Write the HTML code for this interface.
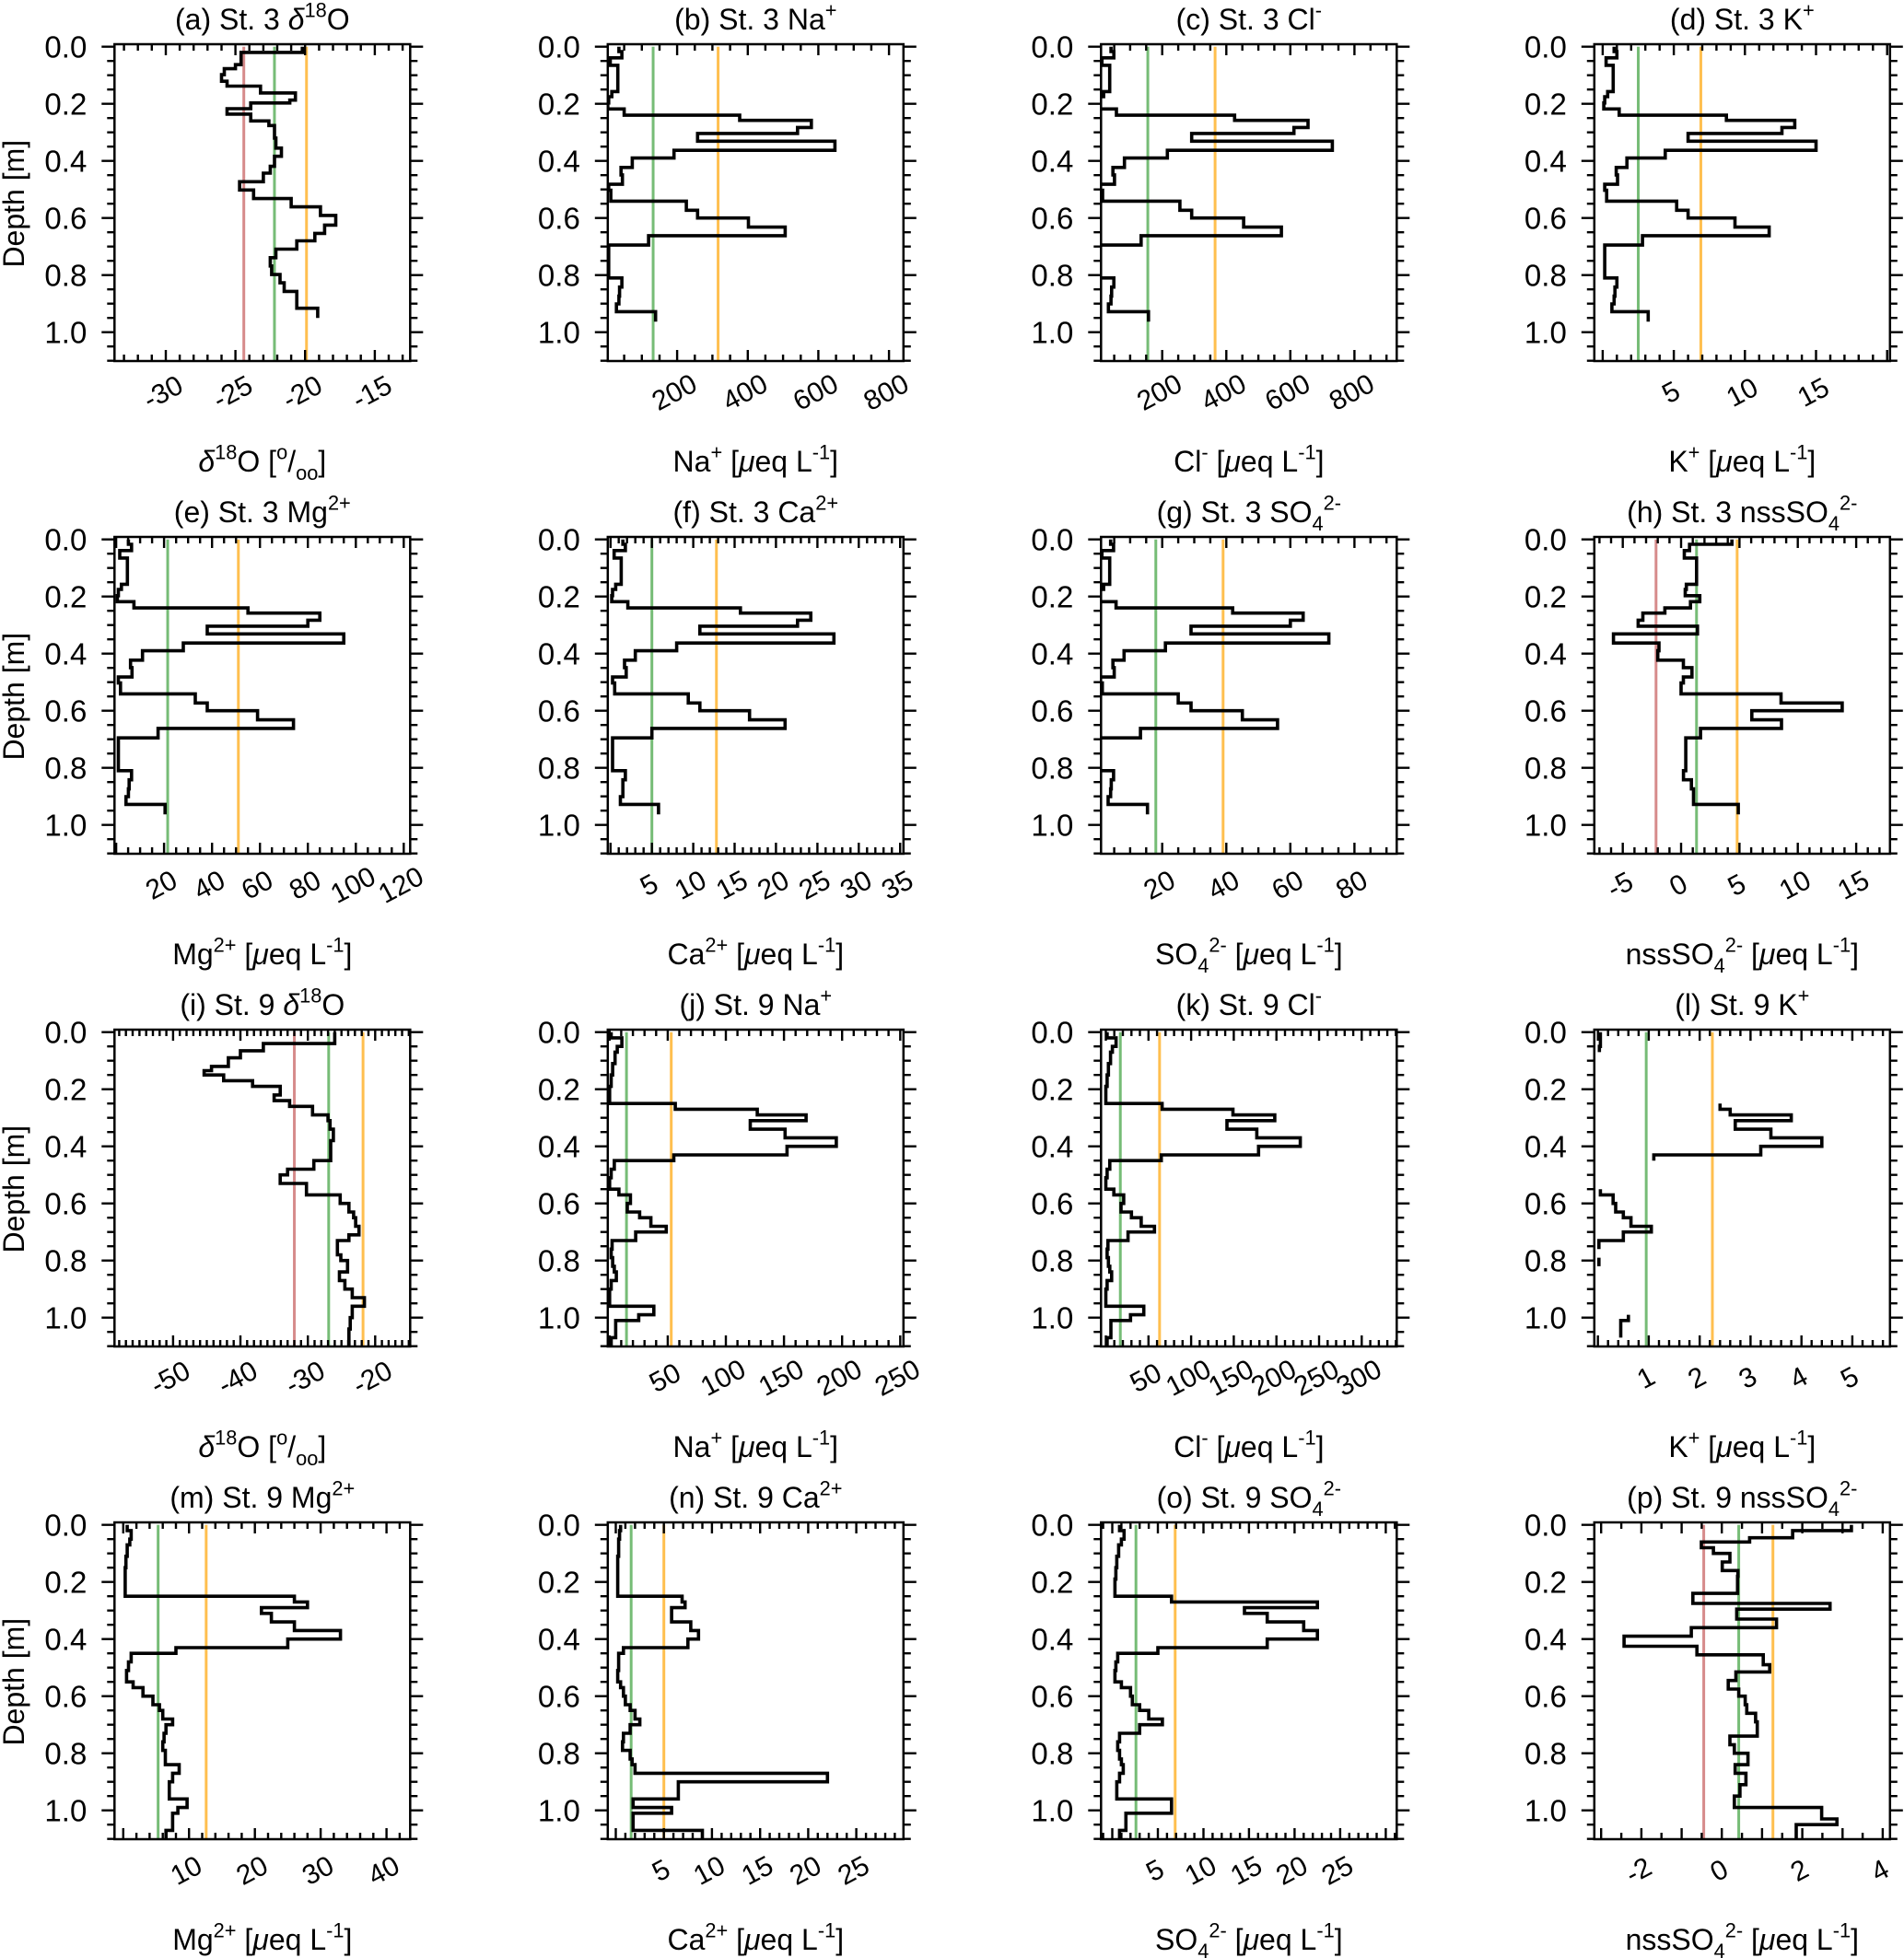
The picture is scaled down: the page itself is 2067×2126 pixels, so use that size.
<!DOCTYPE html>
<html><head><meta charset="utf-8"><title>Ion profiles</title>
<style>
html,body{margin:0;padding:0;background:#fff;}
svg{display:block;font-family:"Liberation Sans",Arial,sans-serif;}
</style></head>
<body>
<svg id="fig" width="2067" height="2126" viewBox="0 0 2067 2126" xmlns="http://www.w3.org/2000/svg"></svg>
<script>
// ---------- data (depth boundaries in m, values per bin) ----------
const depthA = [0,0.02,0.063,0.077,0.098,0.121,0.138,0.162,0.187,0.197,0.217,0.236,0.26,0.276,0.32,0.355,0.384,0.419,0.443,0.473,0.502,0.532,0.561,0.591,0.625,0.654,0.68,0.709,0.739,0.768,0.798,0.827,0.857,0.887,0.916,0.95];
const valsA = [-20.2,-24.6,-25,-25.8,-26,-25.6,-23.2,-20.7,-21.1,-23.9,-25.6,-23.9,-22.6,-22.2,-22.1,-21.7,-22.2,-22.5,-23,-24.7,-23.7,-21,-18.9,-17.8,-18.6,-19.3,-20.6,-22.1,-22.5,-22.4,-21.8,-21.5,-20.6,-20.6,-19.1];
const depthSt3 = [0,0.017,0.039,0.065,0.157,0.175,0.197,0.218,0.24,0.258,0.283,0.304,0.331,0.363,0.39,0.423,0.449,0.482,0.503,0.541,0.573,0.6,0.632,0.662,0.695,0.81,0.842,0.874,0.901,0.928,0.963];
const valsB = [35,43.5,10.5,32,15,6,3.5,50,377,580,541,258,647,191,73,41,45,6,12,226,258,402,506,119,6,43.5,37,35,28,139];
const valsC = [40,49,12,36,17,7,4,57,426,655,611,292,731,216,82,46,51,7,14,255,292,454,572,134,7,49,42,40,32,157];
const valsD = [0.8,1.0,0.24,0.74,0.35,0.14,0.08,1.16,8.7,13.5,12.6,6.0,15.0,4.4,1.7,0.95,1.04,0.14,0.28,5.2,6.0,9.3,11.7,2.8,0.14,1.0,0.86,0.8,0.65,3.2];
const valsE = [5.1,6.4,1.5,4.7,2.2,0.9,0.5,7.4,55,85,80,38,95,28,11,6,6.6,0.9,1.8,33,38,59,74,17.5,0.9,6.4,5.4,5.1,4.1,20.4];
const valsF = [1.5,1.8,0.44,1.3,0.63,0.25,0.15,2.1,15.7,24.2,22.6,10.8,27,8,3,1.7,1.9,0.25,0.5,9.4,10.8,16.8,21.1,5,0.25,1.8,1.5,1.5,1.2,5.8];
const valsG = [3.9,4.8,1.2,3.6,1.7,0.7,0.4,5.6,42,64,60,29,72,21,8.1,4.6,5,0.7,1.3,25,29,45,56,13.2,0.7,4.8,4.1,3.9,3.1,15.4];
const valsH = [4.35,0.72,0.27,1.32,0.45,0.35,1.6,0.8,-1.39,-3.28,-3.68,1.4,-5.8,-1.9,-2.0,0.19,0.93,0.19,0,8.56,13.8,6.06,8.6,1.66,0.4,0.2,0.88,1.06,1.06,4.9];
const depthI = [0,0.04,0.065,0.09,0.12,0.135,0.15,0.17,0.19,0.22,0.24,0.26,0.29,0.31,0.34,0.38,0.45,0.48,0.5,0.53,0.57,0.6,0.63,0.65,0.68,0.71,0.73,0.78,0.8,0.84,0.87,0.9,0.93,0.96,1.0,1.04,1.1];
const valsI = [-26,-36.6,-40,-41.8,-44.3,-45.4,-42.5,-38.2,-34.1,-35,-32.7,-29.3,-27,-26.7,-26.2,-26.6,-29.1,-33,-34.1,-30.2,-25.2,-23.9,-23.2,-22.9,-22.4,-23.9,-25.6,-25.1,-24.1,-25.3,-24.5,-23.4,-21.6,-23.4,-23.7,-23.9];
const depthSt9 = [0,0.02,0.05,0.07,0.11,0.15,0.19,0.25,0.27,0.29,0.31,0.34,0.37,0.4,0.43,0.45,0.48,0.51,0.55,0.57,0.6,0.63,0.65,0.68,0.7,0.73,0.76,0.79,0.82,0.84,0.87,0.9,0.96,0.99,1.01,1.07,1.1];
const valsJ = [1.3,10.5,6.6,4.7,2.6,1.3,0,56.5,127,169,121,151,195,152.6,55.2,4,1.3,0,8,17.9,15.2,25.8,35.5,48.7,22.4,2.1,1.3,2.6,4,5.8,1.3,0,38,25,5.2,1.3];
const valsK = [1.5,12,7.7,5.5,3,1.5,0,66,149,198,142,177,228,179,65,4.7,1.5,0,9.4,21,17.8,30,41.5,57,26,2.5,1.5,3,4.7,6.8,1.5,0,44.5,29,6,1.5];
const valsL = [0.05,0.05,0.03,null,null,null,null,2.4,2.6,3.8,2.7,3.4,4.4,3.2,1.1,null,null,null,0.05,0.3,0.35,0.5,0.65,1.05,0.5,0.02,null,0.02,null,null,null,null,null,0.6,0.45,null];
const valsM = [0.6,1.2,1,0.6,0.4,0.3,0.3,26,28,21,22.5,26,33,25,8,1.2,0.8,0.5,1.5,3,4.5,5.5,6,7.5,6.5,6.2,6,6.4,6.4,8.5,7.5,7,9.7,8.3,7.5,6.5];
const valsN = [0.5,0.4,0.3,0.3,0.2,0.2,0.2,6.9,7.2,5.8,5.8,7.8,8.6,7.5,0.8,0.3,0.3,0.2,0.5,0.8,1,1.5,2,2.5,1.5,0.8,0.7,1.5,1.7,2,22,6.5,1.8,5.8,1.8,9];
const valsO = [0.8,1.3,1,0.7,0.5,0.4,0.3,6.5,22.5,14.5,17,21,22.5,17,5,0.6,0.4,0.3,1,2,2.2,3,4,5.5,3,0.8,0.6,0.8,1,1.2,0.8,0.5,6.5,6.5,1.5,0.8];
const depthP = [0,0.02,0.045,0.06,0.08,0.1,0.13,0.16,0.18,0.24,0.275,0.295,0.33,0.36,0.39,0.425,0.455,0.49,0.515,0.545,0.575,0.6,0.63,0.66,0.69,0.74,0.77,0.8,0.84,0.87,0.91,0.95,0.99,1.03,1.05,1.1];
const valsP = [3.22,1.76,0.69,-0.51,-0.21,0.2,0.01,0.4,0.39,-0.72,2.69,0.37,1.36,-0.76,-2.43,-0.62,1.03,1.19,0.35,0.16,0.42,0.58,0.62,0.84,0.88,0.2,0.31,0.65,0.33,0.6,0.45,0.31,2.48,2.86,1.85];
// reference lines [red, green, orange]
const refA=[-24.4,-22.2,-19.9], refB=[null,132,316], refC=[null,155,365], refD=[null,2.5,6.9];
const refE=[null,21.5,51], refF=[null,5,12.8], refG=[null,18,39], refH=[-2.15,1.32,4.8];
const refI=[-32,-26.9,-21.8], refJ=[null,14.5,53], refK=[null,17,63], refL=[null,0.95,2.25];
const refM=[null,5.3,12.6], refN=[null,1.6,5], refO=[null,2.6,6.9], refP=[-0.45,0.42,1.27];
// tick labels
const ticksA=[-30,-25,-20,-15], ticksB=[200,400,600,800], ticksD=[5,10,15], ticksE=[20,40,60,80,100,120];
const ticksF=[5,10,15,20,25,30,35], ticksG=[20,40,60,80], ticksH=[-5,0,5,10,15], ticksI=[-50,-40,-30,-20];
const ticksJ=[50,100,150,200,250], ticksK=[50,100,150,200,250,300], ticksL=[1,2,3,4,5], ticksM=[10,20,30,40];
const ticksN=[5,10,15,20,25], ticksP=[-2,0,2,4];
const depthTicks=[0,0.2,0.4,0.6,0.8,1.0];

const UNIT=[["[","n"],["μ","it"],["eq L","n"],["-1","sup"],["]","n"]];
const D18=[["δ","it"],["18","sup"],["O","n"]];
function so4(pre){return [[pre+"SO","n"],["4","sub"],["2-","sup"]];}
const panels=[
 {id:"a",t:[["(a) St. 3 ","n"],...D18],xl:[...D18,[" [","n"],["o","sup"],["/","n"],["oo","sub"],["]","n"]],x0:-33.68,x1:-12.46,maj:5,min:1,tk:ticksA,d:depthA,v:valsA,r:refA},
 {id:"b",t:[["(b) St. 3 Na","n"],["+","sup"]],xl:[["Na","n"],["+","sup"],[" ","n"],...UNIT],x0:3.5,x1:841,maj:200,min:50,tk:ticksB,d:depthSt3,v:valsB,r:refB},
 {id:"c",t:[["(c) St. 3 Cl","n"],["-","sup"]],xl:[["Cl","n"],["-","sup"],[" ","n"],...UNIT],x0:9,x1:932,maj:200,min:50,tk:ticksB,d:depthSt3,v:valsC,r:refC},
 {id:"d",t:[["(d) St. 3 K","n"],["+","sup"]],xl:[["K","n"],["+","sup"],[" ","n"],...UNIT],x0:-0.59,x1:20.2,maj:5,min:1,tk:ticksD,d:depthSt3,v:valsD,r:refD},
 {id:"e",t:[["(e) St. 3 Mg","n"],["2+","sup"]],xl:[["Mg","n"],["2+","sup"],[" ","n"],...UNIT],x0:-0.7,x1:122.7,maj:20,min:5,tk:ticksE,d:depthSt3,v:valsE,r:refE},
 {id:"f",t:[["(f) St. 3 Ca","n"],["2+","sup"]],xl:[["Ca","n"],["2+","sup"],[" ","n"],...UNIT],x0:-0.33,x1:35.4,maj:5,min:1,tk:ticksF,d:depthSt3,v:valsF,r:refF},
 {id:"g",t:[["(g) St. 3 ","n"],...so4("")],xl:[...so4(""),[" ","n"],...UNIT],x0:0.9,x1:93.2,maj:20,min:5,tk:ticksG,d:depthSt3,v:valsG,r:refG},
 {id:"h",t:[["(h) St. 3 ","n"],...so4("nss")],xl:[...so4("nss"),[" ","n"],...UNIT],x0:-7.44,x1:17.9,maj:5,min:1,tk:ticksH,d:depthSt3,v:valsH,r:refH},
 {id:"i",t:[["(i) St. 9 ","n"],...D18],xl:[...D18,[" [","n"],["o","sup"],["/","n"],["oo","sub"],["]","n"]],x0:-58.7,x1:-14.8,maj:10,min:1,tk:ticksI,d:depthI,v:valsI,r:refI},
 {id:"j",t:[["(j) St. 9 Na","n"],["+","sup"]],xl:[["Na","n"],["+","sup"],[" ","n"],...UNIT],x0:-1.6,x1:252.8,maj:50,min:10,tk:ticksJ,d:depthSt9,v:valsJ,r:refJ},
 {id:"k",t:[["(k) St. 9 Cl","n"],["-","sup"]],xl:[["Cl","n"],["-","sup"],[" ","n"],...UNIT],x0:-5.6,x1:341,maj:50,min:10,tk:ticksK,d:depthSt9,v:valsK,r:refK},
 {id:"l",t:[["(l) St. 9 K","n"],["+","sup"]],xl:[["K","n"],["+","sup"],[" ","n"],...UNIT],x0:-0.07,x1:5.74,maj:1,min:0.2,tk:ticksL,d:depthSt9,v:valsL,r:refL},
 {id:"m",t:[["(m) St. 9 Mg","n"],["2+","sup"]],xl:[["Mg","n"],["2+","sup"],[" ","n"],...UNIT],x0:-1.33,x1:43.6,maj:10,min:2,tk:ticksM,d:depthSt9,v:valsM,r:refM},
 {id:"n",t:[["(n) St. 9 Ca","n"],["2+","sup"]],xl:[["Ca","n"],["2+","sup"],[" ","n"],...UNIT],x0:-0.83,x1:29.9,maj:5,min:1,tk:ticksN,d:depthSt9,v:valsN,r:refN},
 {id:"o",t:[["(o) St. 9 ","n"],...so4("")],xl:[...so4(""),[" ","n"],...UNIT],x0:-1.23,x1:31.2,maj:5,min:1,tk:ticksN,d:depthSt9,v:valsO,r:refO},
 {id:"p",t:[["(p) St. 9 ","n"],...so4("nss")],xl:[...so4("nss"),[" ","n"],...UNIT],x0:-3.17,x1:4.18,maj:1,min:0.5,tk:ticksP,d:depthP,v:valsP,r:refP}
];

const NS="http://www.w3.org/2000/svg";
const svg=document.getElementById("fig");
function mk(tag,attrs,parent){const e=document.createElementNS(NS,tag);for(const k in attrs)e.setAttribute(k,attrs[k]);(parent||svg).appendChild(e);return e;}
function richText(parent,segs,x,y,size){
  const t=mk("text",{x:x,y:y,"text-anchor":"middle","font-size":size,fill:"#000"},parent);
  let cur=0;
  for(const [s,ty] of segs){
    let target=0,fs=size,st="normal";
    if(ty==="sup"){target=-size*0.42;fs=size*0.68;}
    if(ty==="sub"){target=size*0.28;fs=size*0.68;}
    if(ty==="it"){st="italic";}
    const sp=mk("tspan",{dy:(target-cur).toFixed(1),"font-size":fs.toFixed(1),"font-style":st},t);
    sp.textContent=s;cur=target;
  }
  return t;
}
const BW=321,BH=344,PPM=310;
const COLORS=["rgba(196,90,90,0.7)","rgba(60,160,60,0.7)","rgba(255,170,20,0.75)"];
panels.forEach((p,idx)=>{
  const c=idx%4,row=Math.floor(idx/4);
  const L=124.3+535.5*c,T=48+535*row,B=T+BH,R=L+BW;
  const y0=T+2.7;
  const g=mk("g",{});
  
  
  const xs=v=>L+(v-p.x0)/(p.x1-p.x0)*BW;
  const ys=d=>y0+d*PPM;
  const cid="clip-"+p.id;
  const cp=mk("clipPath",{id:cid},g);mk("rect",{x:L,y:T,width:BW,height:BH},cp);
  p.r.forEach((rv,k)=>{ if(rv===null)return;
    const ln=mk("line",{x1:xs(rv),x2:xs(rv),y1:y0,y2:B,stroke:COLORS[k],"stroke-width":3},g);
    
    
  });
  let dstr="",open=false;
  for(let i=0;i<p.v.length;i++){
    const v=p.v[i];
    if(v===null||v===undefined){open=false;continue;}
    const x=xs(v).toFixed(1);
    if(!open){dstr+="M"+x+" "+ys(p.d[i]).toFixed(1);open=true;}
    else dstr+="H"+x;
    dstr+="V"+ys(p.d[i+1]).toFixed(1);
  }
  const path=mk("path",{d:dstr,fill:"none",stroke:"#000","stroke-width":3.6,"stroke-linejoin":"miter","clip-path":"url(#"+cid+")"},g);
  
  
  const fr=mk("rect",{x:L,y:T,width:BW,height:BH,fill:"none",stroke:"#000","stroke-width":2.5},g);
  
  
  let tk="";
  const start=Math.ceil(p.x0/p.min-1e-9)*p.min;
  for(let v=start;v<=p.x1+1e-9;v+=p.min){
    const vv=Math.round(v/p.min)*p.min;
    const isMaj=Math.abs(vv/p.maj-Math.round(vv/p.maj))<1e-6;
    const len=isMaj?12:7,x=xs(vv).toFixed(1);
    tk+=`M${x} ${B}v${-len}M${x} ${T}v${len}`;
  }
  for(let d=0;d<=1.1001;d+=0.05){
    const isMaj=Math.abs(d/0.2-Math.round(d/0.2))<1e-6;
    const len=isMaj?14:8,y=ys(d).toFixed(1);
    tk+=`M${L} ${y}h${-len}M${R} ${y}h${len}`;
  }
  const tp=mk("path",{d:tk,stroke:"#000","stroke-width":2.4,fill:"none"},g);
  
  
  p.tk.forEach(v=>{
    const x=xs(v)-3,y=B+44;
    const t=mk("text",{x:x,y:y,"text-anchor":"middle","font-size":30,transform:`rotate(-28 ${x} ${y-10})`},g);
    t.textContent=String(v);
    
    
  });
  depthTicks.forEach(d=>{
    const t=mk("text",{x:L-30,y:ys(d)+12,"text-anchor":"end","font-size":33},g);
    t.textContent=d.toFixed(1);
    
    
  });
  const title=richText(g,p.t,L+BW/2,T-16,32);
  
  
  const xl=richText(g,p.xl,L+BW/2,B+120,32);
  
  
  if(c===0){
    const yc=y0+0.55*PPM;
    const yl=mk("text",{x:26,y:yc,"text-anchor":"middle","font-size":32,transform:`rotate(-90 26 ${yc})`},g);
    yl.textContent="Depth [m]";
    
    
  }
});
</script>
</body></html>
